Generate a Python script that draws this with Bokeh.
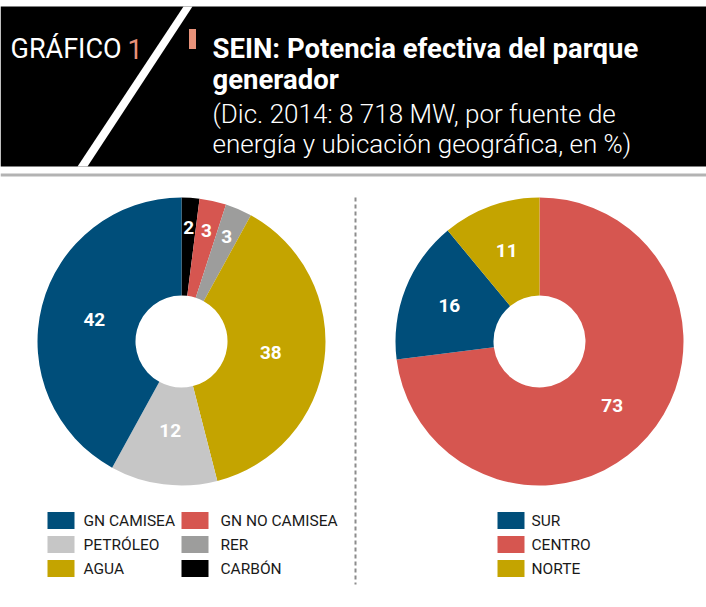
import math
from bokeh.plotting import figure
from bokeh.models import Range1d
from bokeh.core.properties import value
from bokeh.embed import file_html
from bokeh.resources import INLINE

# ---------------- data ----------------
fuente_labels = ["CARBÓN", "GN NO CAMISEA", "RER", "AGUA", "PETRÓLEO", "GN CAMISEA"]
fuente_values = [2, 3, 3, 38, 12, 42]
fuente_colors = ["#000000", "#d65650", "#9d9d9c", "#c4a400", "#c6c6c6", "#004e7a"]

region_labels = ["CENTRO", "SUR", "NORTE"]
region_values = [73, 16, 11]
region_colors = ["#d65650", "#004e7a", "#c4a400"]

legend_left_col1 = ["GN CAMISEA", "PETRÓLEO", "AGUA"]
legend_left_col2 = ["GN NO CAMISEA", "RER", "CARBÓN"]
legend_right = ["SUR", "CENTRO", "NORTE"]

title_tag = "GRÁFICO"
title_num = "1"
title_lines = ["SEIN: Potencia efectiva del parque", "generador"]
subtitle_lines = ["(Dic. 2014: 8 718 MW, por fuente de", "energía y ubicación geográfica, en %)"]

# ---------------- layout ----------------
W, H = 706, 607
def Y(py):
    return H - py

p = figure(width=W, height=H, output_backend="svg", toolbar_location=None,
           x_range=Range1d(0, W), y_range=Range1d(0, H), min_border=0)
p.axis.visible = False
p.grid.visible = False
p.outline_line_color = None
p.background_fill_color = "white"

COND = "Roboto"
HEAD = "Roboto"
LIGHT = "Roboto Light, Roboto"

# header band
p.quad(left=[0], right=[W], top=[Y(6)], bottom=[Y(166)], fill_color="black", line_color=None)
p.patch(x=[183, 192, 87, 77], y=[Y(6), Y(6), Y(166), Y(166)], fill_color="white", line_color=None)
p.quad(left=[0], right=[W], top=[Y(173)], bottom=[Y(176)], fill_color="#b3b3b3", line_color=None)

p.text(x=[10], y=[Y(48)], text=[title_tag], text_font=value(HEAD), text_font_size="27px",
       text_color="white", text_baseline="alphabetic")
p.text(x=[127], y=[Y(48)], text=[title_num], text_font=value(HEAD), text_font_size="27px",
       text_color="#e8927a", text_baseline="alphabetic")
p.quad(left=[188.5], right=[195.5], top=[Y(28.5)], bottom=[Y(48.5)], fill_color="#e8927a", line_color=None)
p.text(x=[212, 212], y=[Y(48), Y(79)], text=title_lines, text_font=value(HEAD),
       text_font_size="27.5px", text_font_style="bold", text_color="white", text_baseline="alphabetic")
p.text(x=[212, 212], y=[Y(113), Y(143)], text=subtitle_lines, text_font=value(LIGHT),
       text_font_size="26px", text_color="white", text_baseline="alphabetic")

# divider
p.segment(x0=[355], y0=[Y(197)], x1=[355], y1=[Y(584)], line_color="#8c8c8c",
          line_width=2, line_dash="4 3")

R_OUT, R_IN = 144, 46

def donut(cx, cy, vals, cols, lab_r_big, lab_r_small):
    total = float(sum(vals))
    starts, ends, lx, ly, txt = [], [], [], [], []
    c = 0.0
    for v in vals:
        a0 = math.pi / 2 - 2 * math.pi * c / total
        a1 = math.pi / 2 - 2 * math.pi * (c + v) / total
        starts.append(a0)
        ends.append(a1)
        am = (a0 + a1) / 2
        r = lab_r_small if v < 5 else lab_r_big
        lx.append(cx + r * math.cos(am))
        ly.append(Y(cy) + r * math.sin(am))
        txt.append(str(v))
        c += v
    p.annular_wedge(x=cx, y=Y(cy), inner_radius=R_IN, outer_radius=R_OUT,
                    start_angle=starts, end_angle=ends, direction="clock",
                    fill_color=cols, line_color=None)
    p.text(x=lx, y=ly, text=txt, text_font=value(COND), text_font_size="19px",
           text_font_style="bold", text_color="white", text_align="center",
           text_baseline="middle")

donut(181, 341, fuente_values, fuente_colors, 90, 114)
donut(539, 341, region_values, region_colors, 97, 97)

# legends
row_y = [520, 544, 568]
cmap_f = dict(zip(fuente_labels, fuente_colors))
cmap_r = dict(zip(region_labels, region_colors))

def legend(x_sq, x_txt, labels, cmap):
    p.quad(left=[x_sq] * len(labels), right=[x_sq + 27] * len(labels),
           top=[Y(y - 8.5) for y in row_y[:len(labels)]],
           bottom=[Y(y + 8.5) for y in row_y[:len(labels)]],
           fill_color=[cmap[l] for l in labels], line_color=None)
    p.text(x=[x_txt] * len(labels), y=[Y(y) for y in row_y[:len(labels)]], text=labels,
           text_font=value(COND), text_font_size="15.5px", text_color="#1a1a1a",
           text_baseline="middle")

legend(47, 83, legend_left_col1, cmap_f)
legend(181, 220, legend_left_col2, cmap_f)
legend(497, 531, legend_right, cmap_r)

open("out.html", "w").write(file_html(p, INLINE))
